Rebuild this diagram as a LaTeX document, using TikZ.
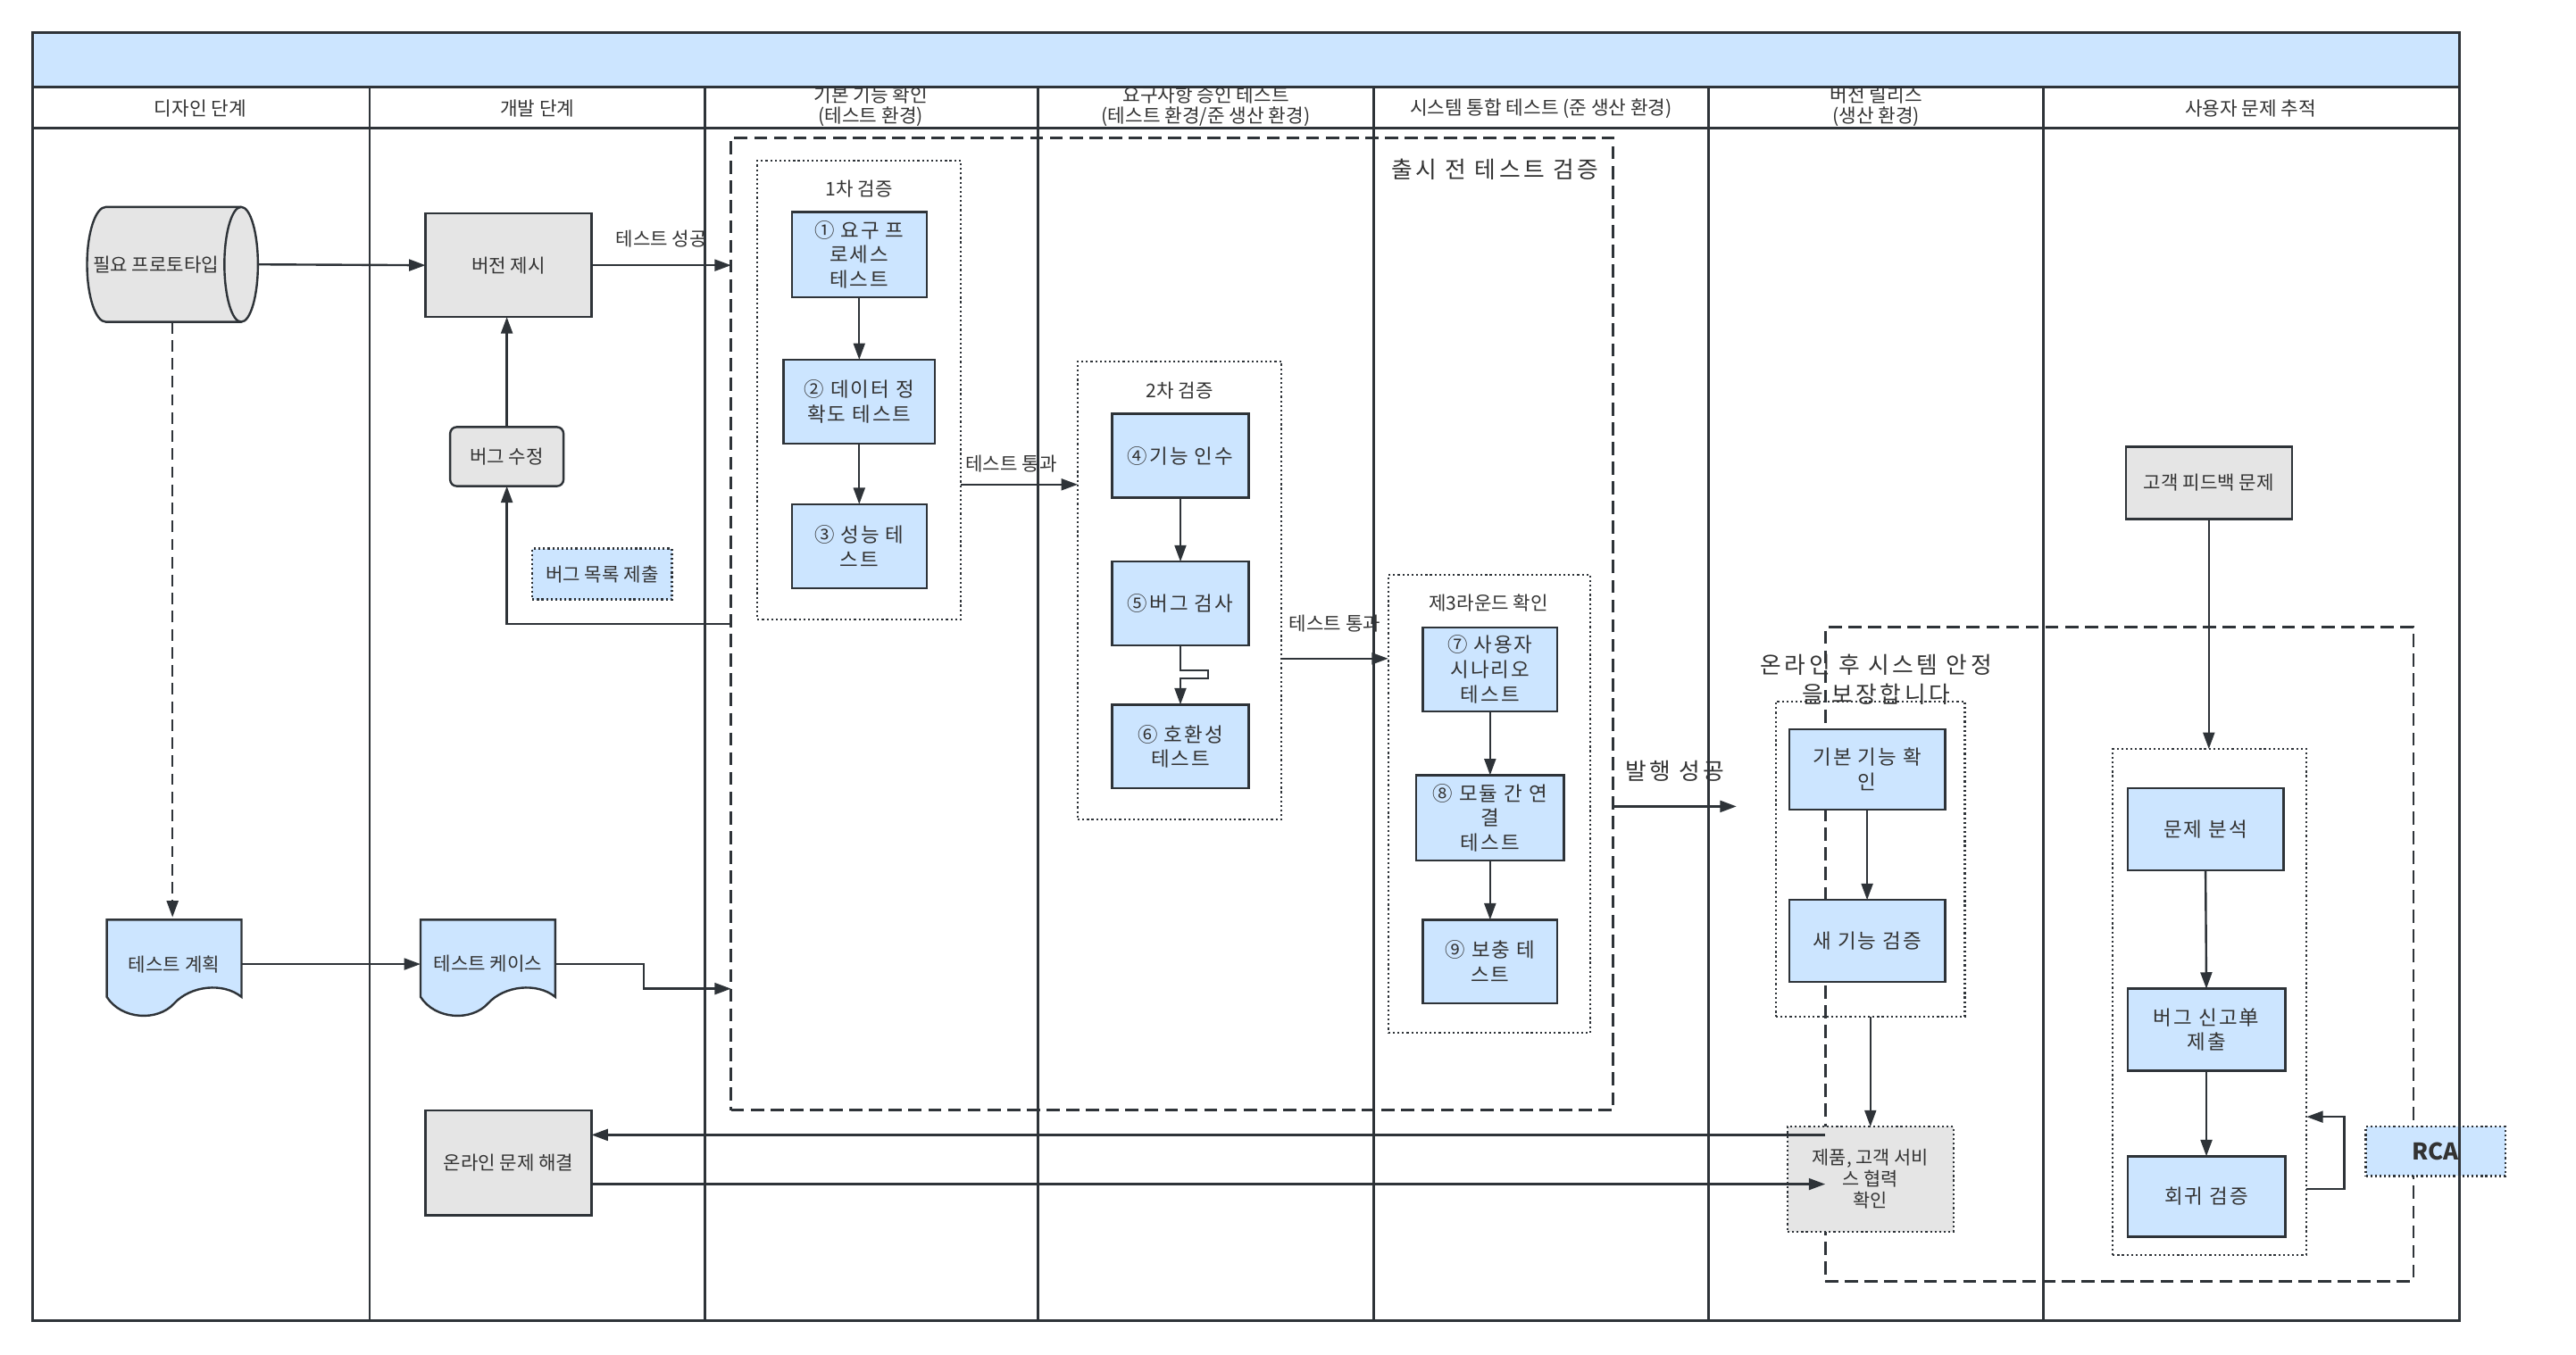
\documentclass[tikz,border=0pt]{standalone}
\usepackage{fontspec}
\setmainfont{Noto Sans CJK KR}
\newfontfamily\bluefont{Noto Sans CJK KR}[LetterSpace=9]
\newfontfamily\titlefont{Noto Sans CJK KR}[LetterSpace=14]
\usetikzlibrary{arrows.meta}
\definecolor{lineC}{HTML}{2E3338}
\definecolor{blueF}{HTML}{CCE5FF}
\definecolor{grayF}{HTML}{E5E5E5}
\definecolor{txtC}{HTML}{333333}
\tikzset{
  fs/.style={font=\fontsize{11.5}{13}\selectfont},
  fh/.style={font=\fontsize{11.6}{12.5}\selectfont},
  fm/.style={font=\bluefont\fontsize{12.2}{15}\selectfont},
  fl/.style={font=\titlefont\fontsize{14}{18}\selectfont},
  base/.style={inner sep=0pt, outer sep=0pt, align=center, text=txtC},
  bluebox/.style={base, fm, draw=lineC, line width=1.3pt, fill=blueF},
  graybox/.style={base, fs, draw=lineC, line width=1.3pt, fill=grayF},
  dotbox/.style={base, draw=lineC, line width=1.2pt, dash pattern=on 1.2pt off 1.6pt},
  dashbox/.style={base, draw=lineC, line width=1.5pt, dash pattern=on 8pt off 4pt},
  arr/.style={draw=lineC, line width=1.3pt, -{Triangle[length=10pt,width=7pt]}},
  lanetxt/.style={base, fh},
  frame/.style={draw=lineC, line width=1.6pt},
  shapeln/.style={draw=lineC, line width=1.3pt},
  sz/.style 2 args={minimum width=#1, minimum height=#2},
}
\begin{document}
\begin{tikzpicture}[x=1pt,y=-1pt]
\useasboundingbox (0,0) rectangle (1568,825);
\fill[white] (0,0) rectangle (1568,825);
\fill[blueF] (20,20) rectangle (1497,53);

% lane headings
\node[lanetxt] (h1) at (122,66) {디자인 단계};
\node[lanetxt] (h2) at (327,66) {개발 단계};
\node[lanetxt] (h3) at (530,65) {기본 기능 확인\\(테스트 환경)};
\node[lanetxt] (h4) at (734,65) {요구사항 승인 테스트\\(테스트 환경/준 생산 환경)};
\node[lanetxt] (h5) at (938,66) {시스템 통합 테스트 (준 생산 환경)};
\node[lanetxt] (h6) at (1142,65) {버전 릴리스\\(생산 환경)};
\node[lanetxt] (h7) at (1370,66) {사용자 문제 추적};

% lane 1 and 2
\draw[shapeln, fill=grayF] (64.5,126) -- (146.8,126)
  arc[start angle=90, end angle=-90, x radius=10.2pt, y radius=35pt]
  -- (64.5,196)
  arc[start angle=270, end angle=90, x radius=11.5pt, y radius=35pt] -- cycle;
\draw[shapeln] (146.8,126) arc[start angle=90, end angle=270, x radius=10.2pt, y radius=35pt];
\node[base, sz={104}{70}] (proto) at (105,161) {};
\node[base, fs] (protot) at (95,161) {필요 프로토타입};

\draw[shapeln, fill=blueF] (65,560) -- (65,607) .. controls (74,621) and (96,622) .. (106,611)
  .. controls (116,600) and (136,598) .. (147,607) -- (147,560) -- cycle;
\node[base, fs, sz={82}{57}] (plan) at (106,587) {테스트 계획};

\draw[shapeln, fill=blueF, shift={(191,0)}] (65,560) -- (65,607) .. controls (74,621) and (96,622) .. (106,611)
  .. controls (116,600) and (136,598) .. (147,607) -- (147,560) -- cycle;
\node[base, fs, sz={82}{57}] (cases) at (297,587) {테스트 케이스};

\node[graybox, sz={101}{63}] (version) at (309.5,161.5) {버전 제시};
\node[graybox, rounded corners=4pt, sz={69}{36}] (fix) at (308.5,278) {버그 수정};
\node[base, fs, fill=blueF, draw=lineC, line width=1.2pt, dash pattern=on 1.2pt off 1.6pt, sz={85}{31}] (buglist) at (366.5,349.5) {버그 목록 제출};
\node[graybox, sz={101}{64}] (online) at (309.5,708) {온라인 문제 해결};

% pre-release test block
\node[dashbox, sz={537}{592}] (pre) at (713.5,380) {};
\node[base, fl] (pretitle) at (910,103) {출시 전 테스트 검증};

\node[dotbox, sz={124}{279}] (r1) at (523,237.5) {};
\node[base, fs] (r1t) at (523,115) {1차 검증};
\node[bluebox, sz={82}{52}] (n1) at (523,155) {① 요구 프\\로세스\\테스트};
\node[bluebox, sz={92}{51}] (n2) at (523,244.5) {② 데이터 정\\확도 테스트};
\node[bluebox, sz={82}{51}] (n3) at (523,332.5) {③ 성능 테\\스트};

\node[dotbox, sz={124}{279}] (r2) at (718,359.5) {};
\node[base, fs] (r2t) at (718,238) {2차 검증};
\node[bluebox, sz={83}{51}] (n4) at (718.5,277.5) {④기능 인수};
\node[bluebox, sz={83}{51}] (n5) at (718.5,367.5) {⑤버그 검사};
\node[bluebox, sz={83}{51}] (n6) at (718.5,454.5) {⑥ 호환성\\테스트};

\node[dotbox, sz={123}{279}] (r3) at (906.5,489.5) {};
\node[base, fs] (r3t) at (906,367) {제3라운드 확인};
\node[bluebox, sz={82}{51}] (n7) at (907,407.5) {⑦ 사용자\\시나리오\\테스트};
\node[bluebox, sz={90}{52}] (n8) at (907,498) {⑧ 모듈 간 연\\결\\테스트};
\node[bluebox, sz={82}{51}] (n9) at (907,585.5) {⑨ 보충 테\\스트};

% release block
\node[dashbox, sz={358}{398}] (post) at (1290,581) {};
\node[dotbox, sz={115}{192}] (rr) at (1138.5,523) {};
\node[bluebox, sz={95}{49}] (b1) at (1136.5,468.5) {기본 기능 확\\인};
\node[bluebox, sz={95}{50}] (b2) at (1136.5,573) {새 기능 검증};
\node[base, fl] (posttitle) at (1142,414) {온라인 후 시스템 안정\\을 보장합니다};
\node[base, font=\fontsize{11.3}{13}\selectfont, fill=grayF, draw=lineC, line width=1.3pt, dash pattern=on 1.2pt off 1.6pt, sz={101}{64}] (prod) at (1138.5,718) {제품, 고객 서비\\스 협력\\확인};

% user issue tracking
\node[graybox, sz={101}{44}] (fb) at (1344.5,294) {고객 피드백 문제};
\node[dotbox, sz={118}{308}] (ur) at (1345,610) {};
\node[bluebox, sz={95}{50}] (u1) at (1342.5,505) {문제 분석};
\node[bluebox, sz={96}{50}] (u2) at (1343,627) {버그 신고单\\제출};
\node[bluebox, sz={96}{49}] (u3) at (1343,728.5) {회귀 검증};
\node[base, fill=blueF, draw=lineC, line width=1.3pt, dash pattern=on 1.2pt off 1.6pt, font=\fontsize{14}{16}\selectfont\bfseries, sz={85}{30}] (rca) at (1482.5,701) {RCA};

% connectors
\coordinate (relout) at (1057,491);
\draw[arr] (proto.east) -- (version.west);
\draw[arr] (version.east) -- (version.east -| pre.west) node[midway, above=11pt, base, fs] {테스트 성공};
\draw[arr, dash pattern=on 7pt off 4pt] (proto.south) -- (plan.north -| proto.south);
\draw[arr] (fix.north) -- (fix.north |- version.south);
\draw[arr] (pre.west |- 0,380) -| (fix.south);
\draw[arr] (plan.east) -- (cases.west);
\draw[arr] (cases.east) -- ++(54,0) |- (pre.west |- 0,602);
\draw[arr] (post.west |- 0,691) -- (online.east |- 0,691);
\draw[arr] (online.east |- 0,721) -- (post.west |- 0,721);

\draw[arr] (n1.south) -- (n2.north);
\draw[arr] (n2.south) -- (n3.north);
\draw[arr] (r1.east |- 0,295) -- (r2.west |- 0,295) node[midway, above=7.5pt, base, fs, xshift=-5pt] {테스트 통과};
\draw[arr] (n4.south) -- (n5.north);
\draw[arr] (n5.south) -- ++(0,15) -- ++(17,0) -- ++(0,5) -- ++(-17,0) -- (n6.north);
\draw[arr] (r2.east |- 0,401) -- (r3.west |- 0,401) node[midway, above=16pt, base, fs] {테스트 통과};
\draw[arr] (n7.south) -- (n8.north);
\draw[arr] (n8.south) -- (n9.north);
\draw[arr] (pre.east |- relout) -- (relout) node[midway, above=15pt, base, fl] {발행 성공};

\draw[arr] (b1.south) -- (b2.north);
\draw[arr] (rr.south) -- (prod.north);
\draw[arr] (fb.south) -- (fb.south |- ur.north);
\draw[arr] (u1.south) -- (u2.north);
\draw[arr] (u2.south) -- (u3.north);
\draw[arr] (ur.east |- 0,724) -- ++(23,0) |- (ur.east |- 0,680);

% frame on top
\draw[frame] (20,20) rectangle (1497,804);
\draw[frame] (20,53) -- (1497,53);
\draw[frame] (20,78) -- (1497,78);
\foreach \x in {225,429,632,836,1040,1244} \draw[frame] (\x,53) -- (\x,804);
\end{tikzpicture}
\end{document}
